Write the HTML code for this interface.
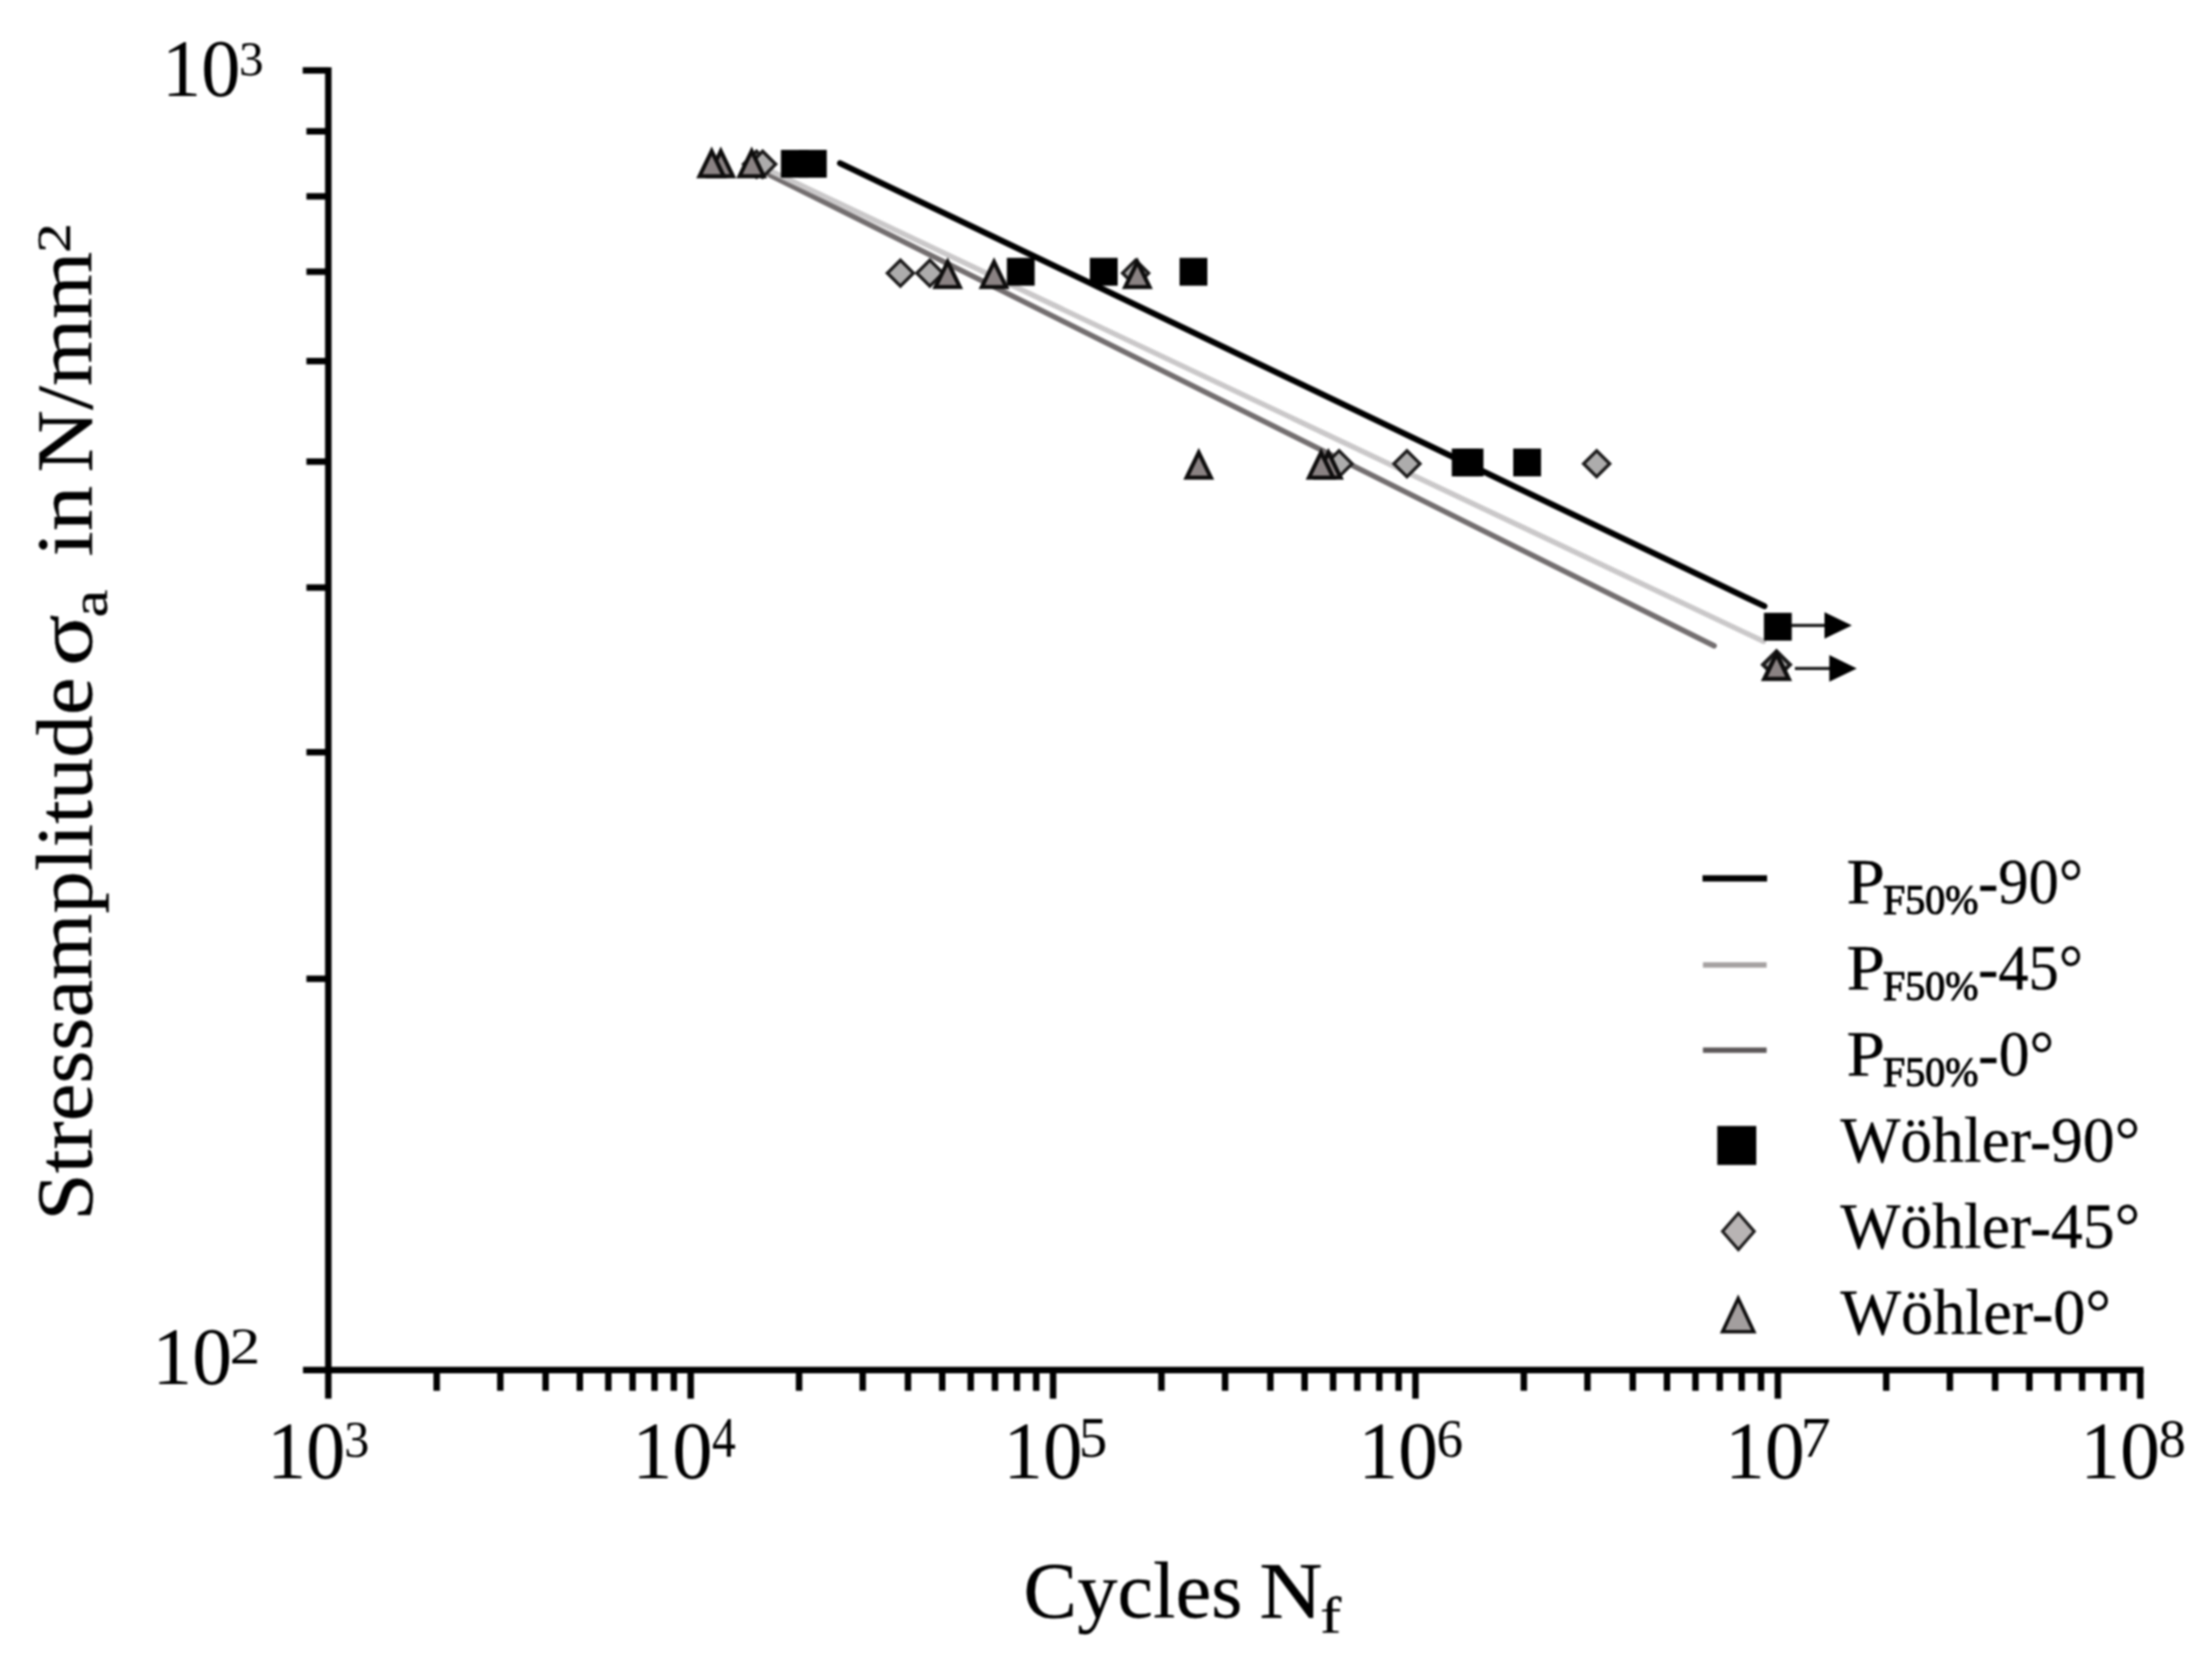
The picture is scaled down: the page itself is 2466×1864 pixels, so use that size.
<!DOCTYPE html>
<html lang="en">
<head>
<meta charset="utf-8">
<title>S-N curve</title>
<style>
html,body{margin:0;padding:0;background:#fff;}
body{width:2466px;height:1864px;overflow:hidden;}
svg{display:block;}
</style>
</head>
<body>
<svg width="2466" height="1864" viewBox="0 0 2466 1864" font-family="'Liberation Serif', 'DejaVu Serif', serif">
<defs><filter id="soft" x="0" y="0" width="100%" height="100%" filterUnits="userSpaceOnUse" color-interpolation-filters="sRGB"><feGaussianBlur stdDeviation="0.8"/></filter></defs>
<rect width="2466" height="1864" fill="#fff"/>
<g filter="url(#soft)">
<g stroke="#000" stroke-width="7.2" fill="none" stroke-linecap="butt">
<line x1="366.0" y1="74.90" x2="366.0" y2="1559.30"/>
<line x1="337.8" y1="1527.30" x2="2389.60" y2="1527.30"/>
<line x1="337.5" y1="78.5" x2="366.0" y2="78.5"/>
<line x1="341.6" y1="146.40" x2="366.0" y2="146.40"/>
<line x1="341.6" y1="218.90" x2="366.0" y2="218.90"/>
<line x1="341.6" y1="302.92" x2="366.0" y2="302.92"/>
<line x1="341.6" y1="402.60" x2="366.0" y2="402.60"/>
<line x1="341.6" y1="514.63" x2="366.0" y2="514.63"/>
<line x1="341.6" y1="655.04" x2="366.0" y2="655.04"/>
<line x1="341.6" y1="838.60" x2="366.0" y2="838.60"/>
<line x1="341.6" y1="1091.17" x2="366.0" y2="1091.17"/>
<line x1="486.82" y1="1527.30" x2="486.82" y2="1550.50"/>
<line x1="557.76" y1="1527.30" x2="557.76" y2="1550.50"/>
<line x1="608.23" y1="1527.30" x2="608.23" y2="1550.50"/>
<line x1="646.38" y1="1527.30" x2="646.38" y2="1550.50"/>
<line x1="678.17" y1="1527.30" x2="678.17" y2="1550.50"/>
<line x1="705.22" y1="1527.30" x2="705.22" y2="1550.50"/>
<line x1="729.65" y1="1527.30" x2="729.65" y2="1550.50"/>
<line x1="751.21" y1="1527.30" x2="751.21" y2="1550.50"/>
<line x1="770.00" y1="1527.30" x2="770.00" y2="1559.30"/>
<line x1="890.82" y1="1527.30" x2="890.82" y2="1550.50"/>
<line x1="961.76" y1="1527.30" x2="961.76" y2="1550.50"/>
<line x1="1012.23" y1="1527.30" x2="1012.23" y2="1550.50"/>
<line x1="1050.38" y1="1527.30" x2="1050.38" y2="1550.50"/>
<line x1="1082.17" y1="1527.30" x2="1082.17" y2="1550.50"/>
<line x1="1109.22" y1="1527.30" x2="1109.22" y2="1550.50"/>
<line x1="1133.65" y1="1527.30" x2="1133.65" y2="1550.50"/>
<line x1="1155.21" y1="1527.30" x2="1155.21" y2="1550.50"/>
<line x1="1174.00" y1="1527.30" x2="1174.00" y2="1559.30"/>
<line x1="1294.82" y1="1527.30" x2="1294.82" y2="1550.50"/>
<line x1="1365.76" y1="1527.30" x2="1365.76" y2="1550.50"/>
<line x1="1416.23" y1="1527.30" x2="1416.23" y2="1550.50"/>
<line x1="1454.38" y1="1527.30" x2="1454.38" y2="1550.50"/>
<line x1="1486.17" y1="1527.30" x2="1486.17" y2="1550.50"/>
<line x1="1513.22" y1="1527.30" x2="1513.22" y2="1550.50"/>
<line x1="1537.65" y1="1527.30" x2="1537.65" y2="1550.50"/>
<line x1="1559.21" y1="1527.30" x2="1559.21" y2="1550.50"/>
<line x1="1578.00" y1="1527.30" x2="1578.00" y2="1559.30"/>
<line x1="1698.82" y1="1527.30" x2="1698.82" y2="1550.50"/>
<line x1="1769.76" y1="1527.30" x2="1769.76" y2="1550.50"/>
<line x1="1820.23" y1="1527.30" x2="1820.23" y2="1550.50"/>
<line x1="1858.38" y1="1527.30" x2="1858.38" y2="1550.50"/>
<line x1="1890.17" y1="1527.30" x2="1890.17" y2="1550.50"/>
<line x1="1917.22" y1="1527.30" x2="1917.22" y2="1550.50"/>
<line x1="1941.65" y1="1527.30" x2="1941.65" y2="1550.50"/>
<line x1="1963.21" y1="1527.30" x2="1963.21" y2="1550.50"/>
<line x1="1982.00" y1="1527.30" x2="1982.00" y2="1559.30"/>
<line x1="2102.82" y1="1527.30" x2="2102.82" y2="1550.50"/>
<line x1="2173.76" y1="1527.30" x2="2173.76" y2="1550.50"/>
<line x1="2224.23" y1="1527.30" x2="2224.23" y2="1550.50"/>
<line x1="2262.38" y1="1527.30" x2="2262.38" y2="1550.50"/>
<line x1="2294.17" y1="1527.30" x2="2294.17" y2="1550.50"/>
<line x1="2321.22" y1="1527.30" x2="2321.22" y2="1550.50"/>
<line x1="2345.65" y1="1527.30" x2="2345.65" y2="1550.50"/>
<line x1="2367.21" y1="1527.30" x2="2367.21" y2="1550.50"/>
<line x1="2386.00" y1="1527.30" x2="2386.00" y2="1559.30"/>
</g>
<g fill="none" stroke-linecap="round">
<line x1="858" y1="195" x2="1911" y2="720" stroke="#736e6f" stroke-width="6"/>
<line x1="860" y1="191" x2="1966" y2="715" stroke="#cac8c9" stroke-width="6"/>
<line x1="936.5" y1="182" x2="1967" y2="675.8" stroke="#000" stroke-width="6.8"/>
</g>
<rect x="870.60" y="167.10" width="31" height="31" fill="#000"/>
<rect x="890.70" y="167.10" width="31" height="31" fill="#000"/>
<rect x="1122.50" y="287.50" width="31" height="31" fill="#000"/>
<rect x="1215.00" y="287.50" width="31" height="31" fill="#000"/>
<rect x="1315.00" y="287.50" width="31" height="31" fill="#000"/>
<rect x="1618.50" y="500.10" width="31" height="31" fill="#000"/>
<rect x="1622.80" y="500.10" width="31" height="31" fill="#000"/>
<rect x="1687.00" y="500.10" width="31" height="31" fill="#000"/>
<rect x="1966.50" y="683.20" width="31" height="31" fill="#000"/>
<path d="M843.40 168.60 L857.90 183.10 L843.40 197.60 L828.90 183.10 Z" fill="#adacac" stroke="#1c1b1b" stroke-width="3.7" stroke-linejoin="miter"/>
<path d="M850.20 168.60 L864.70 183.10 L850.20 197.60 L835.70 183.10 Z" fill="#adacac" stroke="#1c1b1b" stroke-width="3.7" stroke-linejoin="miter"/>
<path d="M1003.80 290.00 L1018.30 304.50 L1003.80 319.00 L989.30 304.50 Z" fill="#adacac" stroke="#1c1b1b" stroke-width="3.7" stroke-linejoin="miter"/>
<path d="M1036.60 290.00 L1051.10 304.50 L1036.60 319.00 L1022.10 304.50 Z" fill="#adacac" stroke="#1c1b1b" stroke-width="3.7" stroke-linejoin="miter"/>
<path d="M1266.00 290.00 L1280.50 304.50 L1266.00 319.00 L1251.50 304.50 Z" fill="#adacac" stroke="#1c1b1b" stroke-width="3.7" stroke-linejoin="miter"/>
<path d="M1492.80 502.50 L1507.30 517.00 L1492.80 531.50 L1478.30 517.00 Z" fill="#adacac" stroke="#1c1b1b" stroke-width="3.7" stroke-linejoin="miter"/>
<path d="M1568.50 502.50 L1583.00 517.00 L1568.50 531.50 L1554.00 517.00 Z" fill="#adacac" stroke="#1c1b1b" stroke-width="3.7" stroke-linejoin="miter"/>
<path d="M1780.00 502.50 L1794.50 517.00 L1780.00 531.50 L1765.50 517.00 Z" fill="#adacac" stroke="#1c1b1b" stroke-width="3.7" stroke-linejoin="miter"/>
<path d="M1980.50 726.00 L1995.50 741.00 L1980.50 756.00 L1965.50 741.00 Z" fill="#adacac" stroke="#1c1b1b" stroke-width="4.4" stroke-linejoin="miter"/>
<path d="M838.00 168.50 L851.60 196.50 L824.40 196.50 Z" fill="#8a8283" stroke="#0e0d0d" stroke-width="4.5" stroke-linejoin="miter"/>
<path d="M803.60 168.50 L817.20 196.50 L790.00 196.50 Z" fill="#8a8283" stroke="#0e0d0d" stroke-width="4.5" stroke-linejoin="miter"/>
<path d="M793.40 168.50 L807.00 196.50 L779.80 196.50 Z" fill="#8a8283" stroke="#0e0d0d" stroke-width="4.5" stroke-linejoin="miter"/>
<path d="M1268.00 291.90 L1281.60 319.90 L1254.40 319.90 Z" fill="#8a8283" stroke="#0e0d0d" stroke-width="4.5" stroke-linejoin="miter"/>
<path d="M1108.20 291.90 L1121.80 319.90 L1094.60 319.90 Z" fill="#8a8283" stroke="#0e0d0d" stroke-width="4.5" stroke-linejoin="miter"/>
<path d="M1056.50 291.90 L1070.10 319.90 L1042.90 319.90 Z" fill="#8a8283" stroke="#0e0d0d" stroke-width="4.5" stroke-linejoin="miter"/>
<path d="M1481.00 504.50 L1494.60 532.50 L1467.40 532.50 Z" fill="#8a8283" stroke="#0e0d0d" stroke-width="4.5" stroke-linejoin="miter"/>
<path d="M1472.80 504.50 L1486.40 532.50 L1459.20 532.50 Z" fill="#8a8283" stroke="#0e0d0d" stroke-width="4.5" stroke-linejoin="miter"/>
<path d="M1336.40 504.50 L1350.00 532.50 L1322.80 532.50 Z" fill="#8a8283" stroke="#0e0d0d" stroke-width="4.5" stroke-linejoin="miter"/>
<path d="M1980.50 728.90 L1994.10 756.90 L1966.90 756.90 Z" fill="#8a8283" stroke="#0e0d0d" stroke-width="4.8" stroke-linejoin="miter"/>
<g stroke="#1a1a1a" stroke-width="3.6" fill="#000">
<line x1="1997" y1="697.2" x2="2040" y2="697.2"/>
<line x1="2001" y1="745.2" x2="2045" y2="745.2"/>
</g>
<path d="M2034 682.5 L2064.5 697.3 L2034 712 Z" fill="#000"/>
<path d="M2039.4 730.2 L2070 745.2 L2039.4 760 Z" fill="#000"/>
<line x1="1898" y1="979.2" x2="1970" y2="979.2" stroke="#000" stroke-width="7"/>
<line x1="1898.5" y1="1075.8" x2="1969.5" y2="1075.8" stroke="#a5a1a1" stroke-width="6"/>
<line x1="1898.5" y1="1170.8" x2="1969.5" y2="1170.8" stroke="#5e595a" stroke-width="6"/>
<rect x="1914.45" y="1255.25" width="43.5" height="43.5" fill="#000"/>
<path d="M1938.00 1352.50 L1955.70 1372.80 L1938.00 1393.10 L1920.30 1372.80 Z" fill="#b8b4b4" stroke="#1c1b1b" stroke-width="3.4" stroke-linejoin="miter"/>
<path d="M1937.80 1447.50 L1955.20 1484.60 L1920.40 1484.60 Z" fill="#a39e9e" stroke="#0e0d0d" stroke-width="3.9" stroke-linejoin="miter"/>
<text fill="#000"><tspan x="180.53" y="106.59" font-size="90.81" textLength="87.66" lengthAdjust="spacingAndGlyphs">10</tspan><tspan x="266.40" y="83.65" font-size="55.32" textLength="27.39" lengthAdjust="spacingAndGlyphs">3</tspan></text>
<text fill="#000"><tspan x="169.72" y="1543.49" font-size="90.96" textLength="88.91" lengthAdjust="spacingAndGlyphs">10</tspan><tspan x="256.00" y="1520.30" font-size="56.30" textLength="34.16" lengthAdjust="spacingAndGlyphs">2</tspan></text>
<text fill="#000"><tspan x="297.65" y="1648.08" font-size="91.85" textLength="87.43" lengthAdjust="spacingAndGlyphs">10</tspan><tspan x="383.84" y="1624.33" font-size="56.95" textLength="28.00" lengthAdjust="spacingAndGlyphs">3</tspan></text>
<text fill="#000"><tspan x="704.63" y="1648.08" font-size="91.85" textLength="89.94" lengthAdjust="spacingAndGlyphs">10</tspan><tspan x="793.84" y="1624.20" font-size="63.12" textLength="26.56" lengthAdjust="spacingAndGlyphs">4</tspan></text>
<text fill="#000"><tspan x="1118.57" y="1648.08" font-size="91.85" textLength="88.34" lengthAdjust="spacingAndGlyphs">10</tspan><tspan x="1202.86" y="1623.57" font-size="62.71" textLength="31.68" lengthAdjust="spacingAndGlyphs">5</tspan></text>
<text fill="#000"><tspan x="1514.22" y="1648.08" font-size="91.85" textLength="88.91" lengthAdjust="spacingAndGlyphs">10</tspan><tspan x="1601.48" y="1623.58" font-size="62.01" textLength="29.59" lengthAdjust="spacingAndGlyphs">6</tspan></text>
<text fill="#000"><tspan x="1922.90" y="1648.08" font-size="91.85" textLength="89.14" lengthAdjust="spacingAndGlyphs">10</tspan><tspan x="2007.46" y="1624.20" font-size="63.66" textLength="33.37" lengthAdjust="spacingAndGlyphs">7</tspan></text>
<text fill="#000"><tspan x="2318.90" y="1648.08" font-size="91.85" textLength="89.14" lengthAdjust="spacingAndGlyphs">10</tspan><tspan x="2406.52" y="1623.69" font-size="61.33" textLength="30.35" lengthAdjust="spacingAndGlyphs">8</tspan></text>
<text transform="rotate(-90)" fill="#000"><tspan x="-1360.70" y="102.20" font-size="89.00" textLength="605.44" lengthAdjust="spacingAndGlyphs" stroke="#000" stroke-width="0.3">Stressamplitude</tspan><tspan> </tspan><tspan x="-742.60" y="102.20" font-size="89.00" textLength="57.50" lengthAdjust="spacingAndGlyphs" stroke="#000" stroke-width="0.3">σ</tspan><tspan x="-688.46" y="118.70" font-size="58.00" textLength="31.24" lengthAdjust="spacingAndGlyphs" stroke="#000" stroke-width="0.3">a</tspan><tspan> </tspan><tspan x="-620.43" y="102.20" font-size="89.00" textLength="78.99" lengthAdjust="spacingAndGlyphs" stroke="#000" stroke-width="0.3">in</tspan><tspan> </tspan><tspan x="-526.65" y="102.20" font-size="89.00" textLength="246.16" lengthAdjust="spacingAndGlyphs" stroke="#000" stroke-width="0.3">N/mm</tspan><tspan x="-282.14" y="78.20" font-size="53.00" textLength="33.42" lengthAdjust="spacingAndGlyphs" stroke="#000" stroke-width="0.3">2</tspan></text>
<text fill="#000"><tspan x="1141.11" y="1803.30" font-size="89.00" textLength="243.97" lengthAdjust="spacingAndGlyphs" stroke="#000" stroke-width="0.3">Cycles</tspan><tspan> </tspan><tspan x="1404.02" y="1803.30" font-size="89.00" textLength="70.34" lengthAdjust="spacingAndGlyphs" stroke="#000" stroke-width="0.3">N</tspan><tspan x="1471.69" y="1820.20" font-size="58.00" textLength="23.45" lengthAdjust="spacingAndGlyphs" stroke="#000" stroke-width="0.3">f</tspan></text>
<text fill="#000"><tspan x="2058.58" y="1007.10" font-size="72.00" textLength="42.90" lengthAdjust="spacingAndGlyphs" stroke="#000" stroke-width="0.3">P</tspan><tspan x="2099.27" y="1019.30" font-size="47.00" textLength="106.45" lengthAdjust="spacingAndGlyphs" stroke="#000" stroke-width="1.2">F50%</tspan><tspan x="2205.37" y="1007.10" font-size="72.00" textLength="116.86" lengthAdjust="spacingAndGlyphs" stroke="#000" stroke-width="0.3">-90°</tspan></text>
<text fill="#000"><tspan x="2058.58" y="1102.95" font-size="72.00" textLength="42.90" lengthAdjust="spacingAndGlyphs" stroke="#000" stroke-width="0.3">P</tspan><tspan x="2099.27" y="1115.15" font-size="47.00" textLength="106.45" lengthAdjust="spacingAndGlyphs" stroke="#000" stroke-width="1.2">F50%</tspan><tspan x="2205.37" y="1102.95" font-size="72.00" textLength="116.86" lengthAdjust="spacingAndGlyphs" stroke="#000" stroke-width="0.3">-45°</tspan></text>
<text fill="#000"><tspan x="2058.58" y="1198.80" font-size="72.00" textLength="42.90" lengthAdjust="spacingAndGlyphs" stroke="#000" stroke-width="0.3">P</tspan><tspan x="2099.27" y="1211.00" font-size="47.00" textLength="106.45" lengthAdjust="spacingAndGlyphs" stroke="#000" stroke-width="1.2">F50%</tspan><tspan x="2205.32" y="1198.80" font-size="72.00" textLength="84.77" lengthAdjust="spacingAndGlyphs" stroke="#000" stroke-width="0.3">-0°</tspan></text>
<text fill="#000"><tspan x="2051.70" y="1294.50" font-size="72.00" textLength="334.09" lengthAdjust="spacingAndGlyphs" stroke="#000" stroke-width="0.3">Wöhler-90°</tspan></text>
<text fill="#000"><tspan x="2051.70" y="1390.55" font-size="72.00" textLength="334.09" lengthAdjust="spacingAndGlyphs" stroke="#000" stroke-width="0.3">Wöhler-45°</tspan></text>
<text fill="#000"><tspan x="2051.70" y="1486.60" font-size="72.00" textLength="301.83" lengthAdjust="spacingAndGlyphs" stroke="#000" stroke-width="0.3">Wöhler-0°</tspan></text>
</g>
</svg>
</body>
</html>
